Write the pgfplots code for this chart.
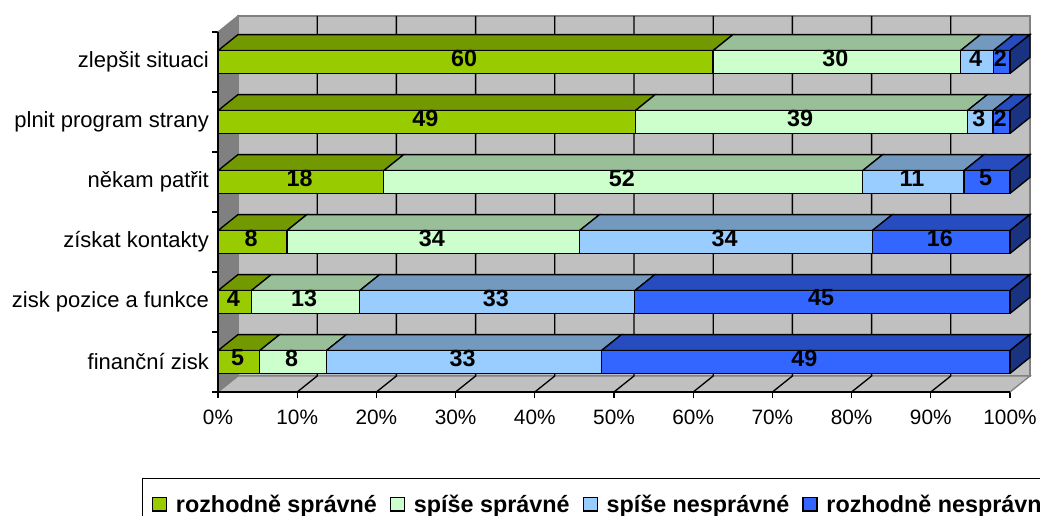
\documentclass[border=0pt]{standalone}
\usepackage{pgfplots}
\usepackage{pgfplotstable}
\usepackage{fontspec}
\setmainfont{Liberation Sans}
\pgfplotsset{compat=1.18}
\definecolor{cA}{HTML}{99CC00}\definecolor{cB}{HTML}{CCFFCC}\definecolor{cC}{HTML}{99CCFF}\definecolor{cD}{HTML}{3366FF}
\definecolor{tA}{HTML}{739900}\definecolor{tB}{HTML}{99BF99}\definecolor{tC}{HTML}{7399BF}\definecolor{tD}{HTML}{264CBF}
\definecolor{sD}{HTML}{1A3380}\definecolor{wall}{HTML}{C0C0C0}\definecolor{wallD}{HTML}{808080}
\newcommand{\fs}{\fontsize{15.6}{18}\selectfont}
\newcommand{\fy}{\fontsize{16.5}{18}\selectfont}
\newcommand{\fb}{\fontsize{17.5}{20}\selectfont\bfseries}
% shares in percent of the row total, and the values printed on the bars
\pgfplotstableread{
y a b c d la lb lc ld
0 5.26 8.42 34.74 51.58 5 8 33 49
1 4.21 13.68 34.74 47.37 4 13 33 45
2 8.70 36.96 36.96 17.39 8 34 34 16
3 20.93 60.47 12.79 5.81 18 52 11 5
4 52.69 41.94 3.23 2.15 49 39 3 2
5 62.50 31.25 4.17 2.08 60 30 4 2
}\shares
\begin{document}
\begin{tikzpicture}
\path[use as bounding box] (0pt,0pt) rectangle (780pt,386.25pt);
\clip (0pt,0pt) rectangle (780pt,386.25pt);
\begin{axis}[
  at={(163.5pt,92.25pt)},anchor=south west,
  scale only axis,width=609pt,height=282pt,
  xmin=0,xmax=102.525,ymin=-0.5,ymax=5.767,
  clip=false,
  stack plots=x,xbar stacked,bar width=0.383,
  reverse stacked plots=false,
  unbounded coords=jump,
  axis line style={draw=none},
  xtick pos=bottom,ytick pos=left,tick align=outside,
  major tick length=4.5pt,
  tick style={black,line width=1pt},
  xtick={0,10,...,100},
  xticklabels={0\%,10\%,20\%,30\%,40\%,50\%,60\%,70\%,80\%,90\%,100\%},
  ytick={-0.5,0.5,...,5.5},yticklabels={},
  extra y ticks={0,1,2,3,4,5},
  extra y tick labels={finanční zisk,zisk pozice a funkce,získat kontakty,někam patřit,plnit program strany,zlepšit situaci},
  extra y tick style={tick style={draw=none},yticklabel style={font=\fy,inner sep=0pt,xshift=-2.2pt}},
  xticklabel style={font=\fs,inner sep=0pt,yshift=-9pt},
  legend columns=4,
  legend style={at={(rel axis cs:-0.0936,-0.2287)},anchor=north west,draw=black,line width=1pt,
    inner xsep=7pt,inner ysep=10pt,
    font=\fb,/tikz/every even column/.style={column sep=7.75pt}},
  legend image code/.code={\draw[#1,draw=black,line width=1pt] (0pt,-5pt) rectangle (10.5pt,5pt);\path (15pt,0pt);},
]
% walls and floor
\addplot[sharp plot,stack plots=false,forget plot,fill=wall,draw=wallD,line width=1pt] coordinates {(2.525,-0.233)(102.525,-0.233)(102.525,5.767)(2.525,5.767)(2.525,-0.233)};
\addplot[sharp plot,stack plots=false,forget plot,fill=wallD,draw=wallD,line width=1pt] coordinates {(0,-0.5)(2.525,-0.233)(2.525,5.767)(0,5.5)(0,-0.5)};
\addplot[sharp plot,stack plots=false,forget plot,fill=wall,draw=wallD,line width=1pt] coordinates {(0,-0.5)(100,-0.5)(102.525,-0.233)(2.525,-0.233)(0,-0.5)};
% grid on wall and floor
\addplot[sharp plot,stack plots=false,forget plot,black,line width=1pt] coordinates {
(10,-0.5)(12.525,-0.233)(12.525,5.767)(12.525,nan)
(20,-0.5)(22.525,-0.233)(22.525,5.767)(22.525,nan)
(30,-0.5)(32.525,-0.233)(32.525,5.767)(32.525,nan)
(40,-0.5)(42.525,-0.233)(42.525,5.767)(42.525,nan)
(50,-0.5)(52.525,-0.233)(52.525,5.767)(52.525,nan)
(60,-0.5)(62.525,-0.233)(62.525,5.767)(62.525,nan)
(70,-0.5)(72.525,-0.233)(72.525,5.767)(72.525,nan)
(80,-0.5)(82.525,-0.233)(82.525,5.767)(82.525,nan)
(90,-0.5)(92.525,-0.233)(92.525,5.767)
};
% axis lines
\addplot[sharp plot,stack plots=false,forget plot,black,line width=1pt] coordinates {(0,5.5)(0,-0.5)(100,-0.5)};
% top faces
\addplot[sharp plot,stack plots=false,forget plot,fill=tA,draw=black,line width=1pt] coordinates {
(0,0.19)(5.26,0.19)(7.785,0.457)(2.525,0.457)(0,0.19)(0,nan)
(0,1.19)(4.21,1.19)(6.735,1.457)(2.525,1.457)(0,1.19)(0,nan)
(0,2.19)(8.70,2.19)(11.225,2.457)(2.525,2.457)(0,2.19)(0,nan)
(0,3.19)(20.93,3.19)(23.455,3.457)(2.525,3.457)(0,3.19)(0,nan)
(0,4.19)(52.69,4.19)(55.215,4.457)(2.525,4.457)(0,4.19)(0,nan)
(0,5.19)(62.50,5.19)(65.025,5.457)(2.525,5.457)(0,5.19)};
\addplot[sharp plot,stack plots=false,forget plot,fill=tB,draw=black,line width=1pt] coordinates {
(5.26,0.19)(13.68,0.19)(16.205,0.457)(7.785,0.457)(5.26,0.19)(0,nan)
(4.21,1.19)(17.89,1.19)(20.415,1.457)(6.735,1.457)(4.21,1.19)(0,nan)
(8.70,2.19)(45.65,2.19)(48.175,2.457)(11.225,2.457)(8.70,2.19)(0,nan)
(20.93,3.19)(81.40,3.19)(83.925,3.457)(23.455,3.457)(20.93,3.19)(0,nan)
(52.69,4.19)(94.62,4.19)(97.145,4.457)(55.215,4.457)(52.69,4.19)(0,nan)
(62.50,5.19)(93.75,5.19)(96.275,5.457)(65.025,5.457)(62.50,5.19)};
\addplot[sharp plot,stack plots=false,forget plot,fill=tC,draw=black,line width=1pt] coordinates {
(13.68,0.19)(48.42,0.19)(50.945,0.457)(16.205,0.457)(13.68,0.19)(0,nan)
(17.89,1.19)(52.63,1.19)(55.155,1.457)(20.415,1.457)(17.89,1.19)(0,nan)
(45.65,2.19)(82.61,2.19)(85.135,2.457)(48.175,2.457)(45.65,2.19)(0,nan)
(81.40,3.19)(94.19,3.19)(96.715,3.457)(83.925,3.457)(81.40,3.19)(0,nan)
(94.62,4.19)(97.85,4.19)(100.375,4.457)(97.145,4.457)(94.62,4.19)(0,nan)
(93.75,5.19)(97.92,5.19)(100.445,5.457)(96.275,5.457)(93.75,5.19)};
\addplot[sharp plot,stack plots=false,forget plot,fill=tD,draw=black,line width=1pt] coordinates {
(48.42,0.19)(100,0.19)(102.525,0.457)(50.945,0.457)(48.42,0.19)(0,nan)
(52.63,1.19)(100,1.19)(102.525,1.457)(55.155,1.457)(52.63,1.19)(0,nan)
(82.61,2.19)(100,2.19)(102.525,2.457)(85.135,2.457)(82.61,2.19)(0,nan)
(94.19,3.19)(100,3.19)(102.525,3.457)(96.715,3.457)(94.19,3.19)(0,nan)
(97.85,4.19)(100,4.19)(102.525,4.457)(100.375,4.457)(97.85,4.19)(0,nan)
(97.92,5.19)(100,5.19)(102.525,5.457)(100.445,5.457)(97.92,5.19)};
% right side faces
\addplot[sharp plot,stack plots=false,forget plot,fill=sD,draw=black,line width=1pt] coordinates {
(100,-0.19)(100,0.19)(102.525,0.457)(102.525,0.077)(100,-0.19)(0,nan)
(100,0.81)(100,1.19)(102.525,1.457)(102.525,1.077)(100,0.81)(0,nan)
(100,1.81)(100,2.19)(102.525,2.457)(102.525,2.077)(100,1.81)(0,nan)
(100,2.81)(100,3.19)(102.525,3.457)(102.525,3.077)(100,2.81)(0,nan)
(100,3.81)(100,4.19)(102.525,4.457)(102.525,4.077)(100,3.81)(0,nan)
(100,4.81)(100,5.19)(102.525,5.457)(102.525,5.077)(100,4.81)};
% front faces with their values
\pgfplotsset{lab/.style={nodes near coords,point meta=explicit symbolic,
  every node near coord/.style={anchor=center,inner sep=0pt,yshift=3pt,xshift=-1pt,font=\fb,text=black}}}
\addplot[lab,fill=cA,draw=black,line width=1pt] table[x=a,y=y,meta=la] {\shares};
\addplot[lab,fill=cB,draw=black,line width=1pt] table[x=b,y=y,meta=lb] {\shares};
\addplot[lab,fill=cC,draw=black,line width=1pt] table[x=c,y=y,meta=lc] {\shares};
\addplot[lab,fill=cD,draw=black,line width=1pt] table[x=d,y=y,meta=ld] {\shares};
\legend{rozhodně správné,spíše správné,spíše nesprávné,rozhodně nesprávné}
\end{axis}
\end{tikzpicture}
\end{document}
